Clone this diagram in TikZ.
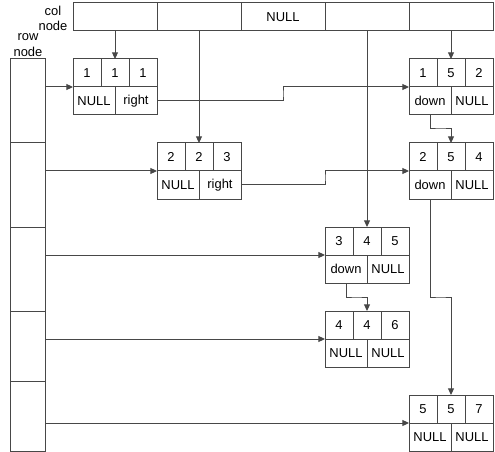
\documentclass[tikz,border=0pt]{standalone}
\usepackage{fontspec}
\setmainfont{Liberation Sans}
\usetikzlibrary{arrows.meta,calc}
\tikzset{
  ln/.style={draw=black!72, line width=0.75pt},
  cellsq/.style={ln, minimum width=21pt, minimum height=21pt, inner sep=0pt, outer sep=0pt, font=\fontsize{9.7pt}{11pt}\selectfont},
  cellwide/.style={ln, minimum width=31.5pt, minimum height=21pt, inner sep=0pt, outer sep=0pt, font=\fontsize{9.7pt}{11pt}\selectfont},
  colcell/.style={ln, minimum width=63pt, minimum height=21pt, inner sep=0pt, outer sep=0pt, font=\fontsize{9.7pt}{11pt}\selectfont},
  rowcell/.style={ln, minimum width=26.25pt, inner sep=0pt, outer sep=0pt},
  whole/.style={minimum width=63pt, minimum height=42pt, inner sep=0pt, outer sep=0pt},
  arr/.style={draw=black!72, line width=0.75pt, -{Triangle[length=5pt,width=4.5pt]}},
  lbl/.style={align=center, inner sep=0pt, font=\fontsize{9.7pt}{11.7pt}\selectfont}
}
\newcommand\elemnode[8]{%
  \begin{scope}[shift={(#2,#3)}]
    \node[whole] (#1) at (42,28) {};
    \node[cellsq] (#1a) at (14,14) {#4};
    \node[cellsq] (#1b) at (42,14) {#5};
    \node[cellsq] (#1c) at (70,14) {#6};
    \node[cellwide] (#1d) at (21,42) {#7};
    \node[cellwide] (#1e) at (63,42) {#8};
  \end{scope}}
\begin{document}
\begin{tikzpicture}[x=0.75pt,y=-0.75pt]
\useasboundingbox (0,0) rectangle (495,452);
% labels
\node[lbl] (collbl) at (53,18.5) {col\\node};
\node[lbl] (rowlbl) at (28,45) {row\\node};
% column header
\node[colcell] (c1) at (115,17) {};
\node[colcell] (c2) at (199,17) {};
\node[colcell] (c3) at (283,17) {NULL};
\node[colcell] (c4) at (367,17) {};
\node[colcell] (c5) at (451,17) {};
% row header
\node[rowcell, minimum height=63pt] (r1) at (27.5,101) {};
\node[rowcell, minimum height=63pt] (r2) at (27.5,185) {};
\node[rowcell, minimum height=63pt] (r3) at (27.5,269) {};
\node[rowcell, minimum height=52.5pt] (r4) at (27.5,346) {};
\node[rowcell, minimum height=52.5pt] (r5) at (27.5,416) {};
% elements
\elemnode{na}{73}{59}{1}{1}{1}{NULL}{right}
\elemnode{nb}{409}{59}{1}{5}{2}{down}{NULL}
\elemnode{nc}{157}{143}{2}{2}{3}{NULL}{right}
\elemnode{nd}{409}{143}{2}{5}{4}{down}{NULL}
\elemnode{ne}{325}{227}{3}{4}{5}{down}{NULL}
\elemnode{nf}{325}{311}{4}{4}{6}{NULL}{NULL}
\elemnode{ng}{409}{395}{5}{5}{7}{NULL}{NULL}
% row arrows
\draw[arr] (r1.east |- na.west) -- (na.west);
\draw[arr] (r2.east |- nc.west) -- (nc.west);
\draw[arr] (r3.east |- ne.west) -- (ne.west);
\draw[arr] (r4.east |- nf.west) -- (nf.west);
\draw[arr] (r5.east |- ng.west) -- (ng.west);
% column arrows
\draw[arr] (c1.south) -- (na.north);
\draw[arr] (c2.south) -- (nc.north);
\draw[arr] (c4.south) -- (ne.north);
\draw[arr] (c5.south) -- (nb.north);
% right pointers
\draw[arr] (nae.east) -| ($(nae.east)!.5!(nb.west)$) |- (nb.west);
\draw[arr] (nce.east) -| ($(nce.east)!.5!(nd.west)$) |- (nd.west);
% down pointers
\draw[arr] (nbd.south) |- ($(nbd.south)!.5!(nd.north)$) -| (nd.north);
\draw[arr] (ndd.south) |- ($(ndd.south)!.5!(ng.north)$) -| (ng.north);
\draw[arr] (ned.south) |- ($(ned.south)!.5!(nf.north)$) -| (nf.north);
\end{tikzpicture}
\end{document}
